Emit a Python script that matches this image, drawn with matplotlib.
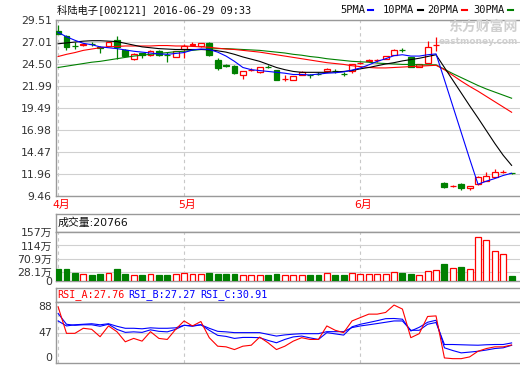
import matplotlib
matplotlib.use("Agg")
import matplotlib.pyplot as plt
import numpy as np

# ---- data (2016-04-11 .. 2016-06-29, 55 sessions) ----
opens = [28.29, 27.69, 26.55, 26.63, 26.83, 26.40, 26.55, 27.20, 26.09, 25.12,
         25.75, 25.47, 26.00, 25.55, 25.35, 26.20, 26.70, 26.50, 26.92, 24.92,
         24.32, 24.24, 23.21, 23.83, 23.58, 24.18, 23.78, 22.80, 22.71, 23.30,
         23.22, 23.38, 23.67, 23.69, 23.38, 23.73, 24.60, 24.81, 24.90, 25.10,
         25.52, 26.08, 25.32, 24.15, 24.64, 26.68, 10.91, 10.58, 10.83, 10.34,
         10.83, 11.20, 11.66, 12.20, 12.08]
highs = [28.97, 27.80, 26.98, 26.85, 27.00, 26.50, 27.05, 27.69, 26.20, 25.70,
         25.80, 26.10, 26.10, 25.90, 26.00, 26.75, 26.95, 26.90, 27.00, 25.18,
         24.45, 24.40, 23.75, 24.00, 24.15, 24.35, 23.80, 23.20, 23.15, 23.65,
         23.40, 23.55, 24.00, 23.90, 23.55, 24.50, 24.75, 25.05, 25.05, 25.45,
         26.15, 26.30, 25.35, 24.55, 27.08, 27.54, 11.05, 10.70, 10.90, 10.62,
         11.70, 12.23, 12.50, 12.45, 12.12]
lows = [27.90, 26.09, 26.25, 26.55, 26.60, 25.70, 26.50, 25.07, 25.40, 24.98,
        25.15, 25.40, 25.40, 24.75, 25.30, 25.15, 26.50, 26.45, 25.45, 23.85,
        24.15, 23.40, 22.79, 23.70, 23.50, 24.00, 22.65, 22.60, 22.65, 23.25,
        22.95, 23.20, 23.60, 23.50, 23.10, 23.50, 24.45, 24.75, 24.75, 25.05,
        25.50, 25.90, 24.16, 24.10, 24.60, 25.94, 10.40, 10.50, 10.15, 10.15,
        10.68, 11.15, 11.60, 12.05, 12.00]
closes = [27.95, 26.38, 26.50, 26.81, 26.80, 26.30, 27.00, 26.49, 25.44, 25.64,
          25.53, 25.97, 25.50, 25.50, 25.97, 26.60, 26.72, 26.85, 25.52, 24.04,
          24.30, 23.47, 23.73, 23.86, 24.12, 24.16, 22.70, 22.82, 23.10, 23.60,
          23.20, 23.36, 23.93, 23.67, 23.36, 24.49, 24.61, 25.00, 24.92, 25.37,
          26.13, 26.06, 24.16, 24.50, 26.40, 26.70, 10.52, 10.60, 10.34, 10.60,
          11.60, 11.74, 12.16, 12.23, 12.05]
volume = [37, 37, 26, 21, 20, 23, 26, 37, 23, 18.5,
          20, 22, 20, 20, 22, 25, 22, 22, 26, 24,
          21, 23, 20, 18.5, 18.5, 20, 23, 20, 18.5, 18.5,
          20, 20, 25, 20, 20, 25, 22, 22, 22, 22,
          28, 26, 23, 18.5, 33, 36, 56, 42, 46, 39,
          140, 131, 95, 87, 16.5]

ma5 = [28.10, 27.60, 27.20, 26.85, 26.70, 26.45, 26.35, 26.25, 26.10, 25.95,
       25.85, 25.75, 25.65, 25.60, 25.70, 25.80, 26.10, 26.20, 26.15, 25.85,
       25.40, 24.80, 24.10, 23.85, 23.75, 23.65, 23.55, 23.45, 23.30, 23.30,
       23.25, 23.35, 23.45, 23.50, 23.60, 23.80, 24.05, 24.40, 24.80, 25.10,
       25.45, 25.55, 25.40, 25.40, 25.55, 25.65, 22.70, 19.70, 16.70, 13.70,
       10.80, 11.15, 11.45, 11.80, 12.05]
ma10 = [26.80, 26.90, 27.00, 27.10, 27.15, 27.15, 27.10, 27.05, 26.85, 26.65,
        26.45, 26.35, 26.25, 26.20, 26.15, 26.15, 26.15, 26.15, 26.10, 26.00,
        25.85, 25.60, 25.30, 25.05, 24.80, 24.45, 24.10, 23.85, 23.65, 23.55,
        23.55, 23.55, 23.55, 23.60, 23.65, 23.75, 23.95, 24.10, 24.30, 24.50,
        24.65, 24.85, 25.00, 25.15, 25.35, 25.55, 24.10, 22.65, 21.20, 19.75,
        18.35, 16.90, 15.45, 14.10, 12.95]
ma20 = [25.35, 25.60, 25.80, 26.05, 26.20, 26.35, 26.45, 26.50, 26.55, 26.55,
        26.55, 26.55, 26.60, 26.60, 26.55, 26.55, 26.50, 26.45, 26.40, 26.30,
        26.20, 26.15, 26.05, 25.95, 25.85, 25.70, 25.55, 25.40, 25.25, 25.10,
        24.95, 24.80, 24.65, 24.55, 24.45, 24.30, 24.20, 24.10, 24.05, 24.05,
        24.10, 24.15, 24.20, 24.25, 24.30, 24.35, 23.85, 23.20, 22.55, 21.95,
        21.40, 20.80, 20.20, 19.60, 19.00]
ma30 = [24.10, 24.25, 24.40, 24.55, 24.70, 24.80, 24.95, 25.10, 25.25, 25.40,
        25.50, 25.60, 25.70, 25.80, 25.90, 25.95, 26.05, 26.15, 26.20, 26.25,
        26.25, 26.20, 26.15, 26.10, 26.05, 25.95, 25.85, 25.75, 25.60, 25.50,
        25.35, 25.25, 25.10, 25.00, 24.90, 24.80, 24.75, 24.70, 24.60, 24.55,
        24.50, 24.45, 24.45, 24.40, 24.40, 24.40, 23.90, 23.40, 22.95, 22.50,
        22.05, 21.65, 21.30, 20.95, 20.60]

rsi_a = [86.7, 45.7, 45.7, 53.5, 51.9, 40.5, 57.1, 48.3, 32.7, 37.9,
         33.7, 48.3, 37.9, 36.3, 51.9, 64.8, 57.1, 63.9, 39.0, 25.9,
         24.9, 20.7, 25.9, 27.4, 39.9, 31.2, 20.7, 25.9, 33.7, 39.0,
         36.3, 36.3, 57.1, 50.4, 46.8, 64.8, 70.1, 75.3, 75.3, 77.9,
         89.3, 83.1, 39.0, 45.2, 71.7, 72.6, 7.8, 6.7, 6.7, 9.4,
         18.1, 22.3, 24.9, 24.9, 27.76]
rsi_b = [76.4, 59.7, 58.1, 58.9, 58.9, 56.6, 59.7, 51.9, 47.2, 48.0,
         47.2, 51.1, 48.8, 48.0, 51.9, 58.1, 56.6, 58.9, 50.4, 42.6,
         41.0, 37.9, 39.4, 39.4, 39.0, 34.8, 31.2, 36.3, 40.2, 41.5,
         38.7, 36.3, 46.8, 44.9, 43.0, 55.8, 59.7, 62.4, 65.2, 68.3,
         68.6, 67.5, 49.3, 55.0, 62.8, 65.9, 23.4, 19.2, 15.6, 16.8,
         18.1, 20.0, 22.3, 23.4, 27.27]
rsi_c = [64.8, 57.1, 58.9, 59.7, 60.5, 58.9, 60.5, 56.6, 53.5, 53.5,
         52.7, 54.2, 53.5, 53.5, 54.2, 58.1, 57.4, 58.9, 53.5, 48.8,
         48.0, 46.8, 46.8, 46.8, 46.8, 44.1, 41.5, 43.3, 44.4, 45.2,
         45.2, 45.2, 48.3, 48.3, 48.3, 54.6, 57.1, 58.9, 60.8, 62.8,
         64.8, 64.8, 50.4, 50.4, 59.7, 62.4, 28.5, 28.5, 28.1, 27.7,
         27.4, 28.1, 28.5, 28.5, 30.91]

month_labels = ["4月", "5月", "6月"]
month_index = [0, 15, 36]

price_ticks = [29.51, 27.01, 24.50, 21.99, 19.49, 16.98, 14.47, 11.96, 9.46]
vol_ticks = [0, 28.1, 70.9, 114, 157]
vol_tick_labels = ["0", "28.1万", "70.9万", "114万", "157万"]
rsi_ticks = [0, 47, 88]

title = "科陆电子[002121] 2016-06-29 09:33"
vol_header = "成交量:20766"

# ---- style ----
W, H = 520, 365
UP, DOWN = "#ff0000", "#008000"
BORDER = "#999999"
GRID = "#d0d0d0"
MONO = ["DejaVu Sans Mono", "Noto Sans CJK SC"]
SANS = ["DejaVu Sans", "Noto Sans CJK SC"]
plt.rcParams["font.family"] = SANS


def rect(x0, y0, x1, y1):
    return [x0 / W, 1 - y1 / H, (x1 - x0) / W, (y1 - y0) / H]


fig = plt.figure(figsize=(W / 100, H / 100), dpi=100)
n = len(closes)
idx = np.arange(n)
xlim = (-0.25, 55.0)


def frame(ax):
    for s in ["top", "left", "bottom"]:
        ax.spines[s].set_color(BORDER)
        ax.spines[s].set_linewidth(1.0)
    ax.spines["right"].set_visible(False)
    ax.set_xlim(*xlim)
    ax.tick_params(axis="both", length=0, labelsize=7.8, pad=3, colors="#333333")
    ax.set_xticks([])


def month_lines(ax):
    for m in month_index:
        ax.axvline(m, color="#c8c8c8", lw=0.8, dashes=(3, 3), zorder=0)


# ---- price panel ----
ax = fig.add_axes(rect(56, 20, 520, 196))
frame(ax)
ax.set_ylim(9.46, 29.51)
ax.set_yticks(price_ticks)
ax.set_yticklabels([f"{v:.2f}" for v in price_ticks])
ax.grid(axis="y", color=GRID, lw=0.8)
month_lines(ax)

o, h, l, c = map(np.array, (opens, highs, lows, closes))
up = c >= o
colors = np.where(up, UP, DOWN)
ax.vlines(idx, l, h, colors=colors, lw=0.9, zorder=2)
body = np.maximum(np.abs(c - o), 0.03)
ax.bar(idx[up], body[up], bottom=np.minimum(o, c)[up], width=0.7,
       facecolor="white", edgecolor=UP, lw=0.9, zorder=3)
ax.bar(idx[~up], body[~up], bottom=np.minimum(o, c)[~up], width=0.7,
       facecolor=DOWN, edgecolor=DOWN, lw=0.9, zorder=3)

for series, col in [(ma30, "#008000"), (ma20, "#ff0000"), (ma10, "#000000"), (ma5, "#0000ff")]:
    ax.plot(idx, series, color=col, lw=0.8, zorder=4)

fig.text(57 / W, 1 - 10 / H, title, family=MONO, fontsize=7.4, va="center", ha="left", color="#111111")

# legend row
legend_items = [("5PMA", "#0000ff", 340), ("10PMA", "#000000", 383),
                ("20PMA", "#ff0000", 427), ("30PMA", "#008000", 473)]
for name, col, xs in legend_items:
    fig.text(xs / W, 1 - 10 / H, name, family=MONO, fontsize=7.5, va="center", ha="left", color="#111111")
    xe = xs + 6.1 * len(name) + 4
    fig.add_artist(plt.Line2D([xe / W, (xe + 5) / W], [1 - 10 / H, 1 - 10 / H], color=col, lw=1.5))

# watermark
fig.text(518 / W, 1 - 27 / H, "东方财富网", family=SANS, fontsize=10, fontweight="bold",
         color="#cfcfcf", ha="right", va="center")
fig.text(518 / W, 1 - 41 / H, "eastmoney.com", family=SANS, fontsize=6.5, fontweight="bold",
         color="#cfcfcf", ha="right", va="center")

for lab, m in zip(month_labels, month_index):
    x = 56 + (m - xlim[0]) / (xlim[1] - xlim[0]) * (520 - 56) + 3
    fig.text(x / W, 1 - 205 / H, lab, family=SANS, fontsize=7.8, color=UP, ha="center", va="center")

# ---- volume panel ----
axvh = fig.add_axes(rect(56, 214, 520, 232))
frame(axvh)
axvh.set_yticks([])
axvh.text(0.003, 0.5, vol_header, transform=axvh.transAxes, family=SANS, fontsize=7.8,
          va="center", ha="left", color="#111111")

axv = fig.add_axes(rect(56, 232, 520, 281))
frame(axv)
axv.set_ylim(0, 157)
axv.set_yticks(vol_ticks)
axv.set_yticklabels(vol_tick_labels, family=SANS)
axv.grid(axis="y", color=GRID, lw=0.8)
month_lines(axv)
vol = np.array(volume)
axv.bar(idx[up], vol[up], width=0.7, facecolor="white", edgecolor=UP, lw=0.9, zorder=3)
axv.bar(idx[~up], vol[~up], width=0.7, facecolor=DOWN, edgecolor=DOWN, lw=0.9, zorder=3)

# ---- RSI panel ----
axrh = fig.add_axes(rect(56, 288, 520, 302))
frame(axrh)
axrh.set_yticks([])
rsi_head = [(f"RSI_A:{rsi_a[-1]:.2f}", UP, 57), (f"RSI_B:{rsi_b[-1]:.2f}", "#0000ff", 128),
            (f"RSI_C:{rsi_c[-1]:.2f}", "#0000ff", 200)]
for txt, col, xs in rsi_head:
    fig.text(xs / W, 1 - 295 / H, txt, family=MONO, fontsize=7.3, color=col, va="center", ha="left")

axr = fig.add_axes(rect(56, 302, 520, 363))
frame(axr)
axr.set_ylim(0, 94)
axr.set_yticks(rsi_ticks)
axr.set_yticklabels([str(v) for v in rsi_ticks])
axr.get_yticklabels()[0].set_va("bottom")
axr.axhline(47, color=GRID, lw=0.8, zorder=0)
month_lines(axr)
axr.plot(idx, rsi_c, color="#0000ff", lw=0.8)
axr.plot(idx, rsi_b, color="#0000ff", lw=0.8)
axr.plot(idx, rsi_a, color="#ff0000", lw=0.8)

fig.savefig("out.png", dpi=100)
